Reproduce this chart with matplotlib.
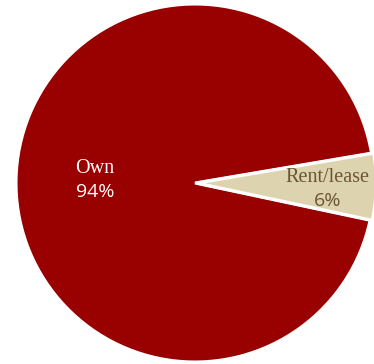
import matplotlib.pyplot as plt

labels = ["Own", "Rent/lease"]
shares = [94, 6]
colors = ["#990000", "#DDD3AF"]
text_colors = ["#FFFFFF", "#6B5434"]

fig = plt.figure(figsize=(3.74, 3.64), dpi=100)
ax = fig.add_axes([16 / 374, 2 / 364, 358 / 374, 358 / 364])

wedges, _ = ax.pie(shares, colors=colors, startangle=9.6, counterclock=True,
                   radius=1.0, explode=[0, 0.012],
                   wedgeprops=dict(edgecolor="white", linewidth=2.2))
ax.set_xlim(-1, 1)
ax.set_ylim(-1, 1)
ax.set_aspect("equal")
ax.axis("off")

# label positions (radius units)
pos = [(-0.56, 0.008), (0.74, -0.042)]
for (x, y), name, val, tc in zip(pos, labels, shares, text_colors):
    ax.text(x, y + 0.02, name, ha="center", va="bottom", fontsize=14.5,
            family="Liberation Serif", color=tc)
    ax.text(x, y - 0.01, f"{val}%", ha="center", va="top", fontsize=14,
            family="Open Sans", color=tc)

fig.savefig("out.png", dpi=100, facecolor="white")
